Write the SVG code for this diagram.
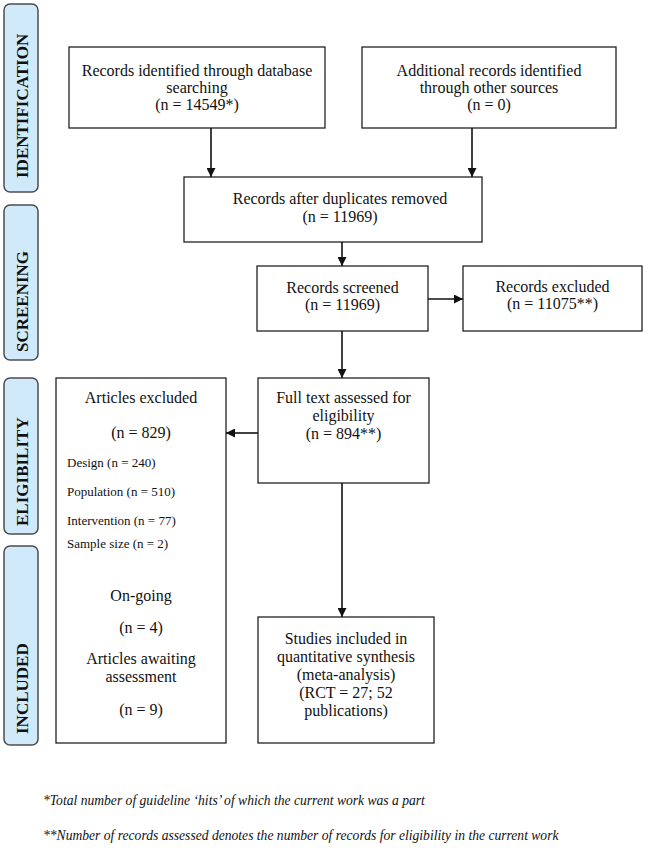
<svg xmlns="http://www.w3.org/2000/svg" width="666" height="851" viewBox="0 0 666 851">
<style>
.side{fill:#d0e9fb;stroke:#4d4d4d;stroke-width:1.5}
.sl{font-family:"Liberation Serif","Times New Roman",serif;font-weight:bold;font-size:17px;fill:#111;text-anchor:start}
.box{fill:#fff;stroke:#222;stroke-width:1.3}
.t{font-family:"Liberation Serif","Times New Roman",serif;font-size:16px;fill:#111;text-anchor:middle}
.s{font-family:"Liberation Serif","Times New Roman",serif;font-size:13px;fill:#111}
.fn{font-family:"Liberation Serif","Times New Roman",serif;font-size:13.6px;font-style:italic;fill:#111}
.c{stroke:#111;stroke-width:1.6;fill:none;marker-end:url(#ah)}
</style>
<defs>
<marker id="ah" viewBox="0 0 10 10" refX="10" refY="5" markerWidth="9" markerHeight="9" markerUnits="userSpaceOnUse" orient="auto"><path d="M0,0L10,5L0,10z" fill="#111"/></marker>
</defs>
<rect width="666" height="851" fill="#fff"/>
<g id="phase-identification"><rect class="side" x="4" y="4" width="34" height="188" rx="6"/><text class="sl" transform="translate(28,178) rotate(-90)">IDENTIFICATION</text></g>
<g id="phase-screening"><rect class="side" x="4" y="205" width="34" height="155" rx="6"/><text class="sl" transform="translate(28,352) rotate(-90)">SCREENING</text></g>
<g id="phase-eligibility"><rect class="side" x="4" y="378" width="34" height="156" rx="6"/><text class="sl" transform="translate(28,526) rotate(-90)">ELIGIBILITY</text></g>
<g id="phase-included"><rect class="side" x="4" y="546" width="34" height="199" rx="6"/><text class="sl" transform="translate(28,734) rotate(-90)">INCLUDED</text></g>

<g id="db-records"><rect class="box" x="69" y="47" width="256" height="81"/><text class="t" x="197" y="76">Records identified through database</text><text class="t" x="197" y="93">searching</text><text class="t" x="197" y="110">(n = 14549*)</text></g>
<g id="other-records"><rect class="box" x="362" y="47" width="254" height="81"/><text class="t" x="489" y="76">Additional records identified</text><text class="t" x="489" y="93">through other sources</text><text class="t" x="489" y="110">(n = 0)</text></g>
<g id="dedup"><rect class="box" x="184" y="177" width="298" height="65"/><text class="t" x="340" y="204">Records after duplicates removed</text><text class="t" x="340" y="222">(n = 11969)</text></g>
<g id="screened"><rect class="box" x="257" y="266" width="171" height="65"/><text class="t" x="342.5" y="293">Records screened</text><text class="t" x="342.5" y="310">(n = 11969)</text></g>
<g id="excluded"><rect class="box" x="463" y="266" width="179" height="65"/><text class="t" x="552.5" y="292">Records excluded</text><text class="t" x="552.5" y="309">(n = 11075**)</text></g>
<g id="fulltext"><rect class="box" x="258" y="378" width="171" height="105"/><text class="t" x="343.5" y="403">Full text assessed for</text><text class="t" x="343.5" y="421">eligibility</text><text class="t" x="343.5" y="439">(n = 894**)</text></g>
<g id="articles-excluded"><rect class="box" x="56" y="378" width="170" height="365"/>
<text class="t" x="141" y="403">Articles excluded</text><text class="t" x="141" y="438">(n = 829)</text>
<text class="s" x="67" y="467">Design (n = 240)</text><text class="s" x="67" y="496">Population (n = 510)</text><text class="s" x="67" y="525">Intervention (n = 77)</text><text class="s" x="67" y="548">Sample size (n = 2)</text>
<text class="t" x="141" y="601">On-going</text><text class="t" x="141" y="633">(n = 4)</text><text class="t" x="141" y="664">Articles awaiting</text><text class="t" x="141" y="682">assessment</text><text class="t" x="141" y="715">(n = 9)</text></g>
<g id="included"><rect class="box" x="258" y="617" width="176" height="126"/><text class="t" x="346" y="644">Studies included in</text><text class="t" x="346" y="662">quantitative synthesis</text><text class="t" x="346" y="680">(meta-analysis)</text><text class="t" x="346" y="698">(RCT = 27; 52</text><text class="t" x="346" y="716">publications)</text></g>

<g id="connectors">
<line class="c" x1="211" y1="128" x2="211" y2="177"/>
<line class="c" x1="472" y1="128" x2="472" y2="177"/>
<line class="c" x1="342" y1="242" x2="342" y2="266"/>
<line class="c" x1="428" y1="299" x2="463" y2="299"/>
<line class="c" x1="342" y1="331" x2="342" y2="378"/>
<line class="c" x1="258" y1="433" x2="226" y2="433"/>
<line class="c" x1="342" y1="483" x2="342" y2="617"/>
</g>
<g id="footnotes">
<text class="fn" x="43" y="805">*Total number of guideline ‘hits’ of which the current work was a part</text>
<text class="fn" x="43" y="840">**Number of records assessed denotes the number of records for eligibility in the current work</text>
</g>
</svg>
